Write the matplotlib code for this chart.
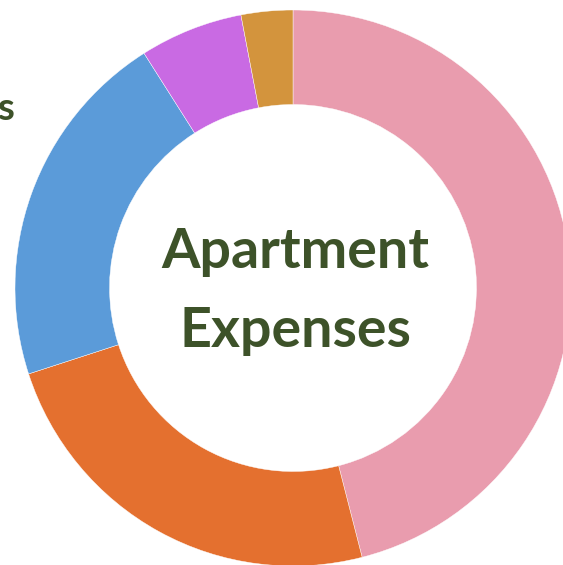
import matplotlib
matplotlib.use("Agg")
import matplotlib.pyplot as plt

categories = ["Rent", "Groceries", "Utilities", "Internet", "Misc"]
values = [46, 24, 21, 6, 3]
colors = ["#e99cae", "#e4702f", "#5b9bd9", "#c96ae3", "#d3943d"]
title_lines = ["Apartment", "Expenses"]
side_label = "Utilities"

W, H, DPI = 563, 565, 100
fig = plt.figure(figsize=(W / DPI, H / DPI), dpi=DPI)
ax = fig.add_axes([0, 0, 1, 1])
ax.axis("off")

cx, cy, R = 293, 288, 278
ax.pie(values, colors=colors, startangle=90, counterclock=False, radius=1,
       wedgeprops=dict(width=0.34, edgecolor="white", linewidth=0.3))
ax.set_xlim(-cx / R, (W - cx) / R)
ax.set_ylim(-(H - cy) / R, cy / R)
ax.set_aspect("auto")

green = "#3d5229"
ax.text(0.01, (cy - 268) / R, title_lines[0], ha="center", va="baseline",
        fontsize=40, fontweight="bold", family="Lato", color=green)
ax.text(0.01, (cy - 347) / R, title_lines[1], ha="center", va="baseline",
        fontsize=40, fontweight="bold", family="Lato", color=green)

fig.text(15 / W, 1 - 120 / H, side_label, ha="right", va="baseline",
         fontsize=28, fontweight="bold", family="Lato", color=green)

fig.savefig("out.png", dpi=DPI)
